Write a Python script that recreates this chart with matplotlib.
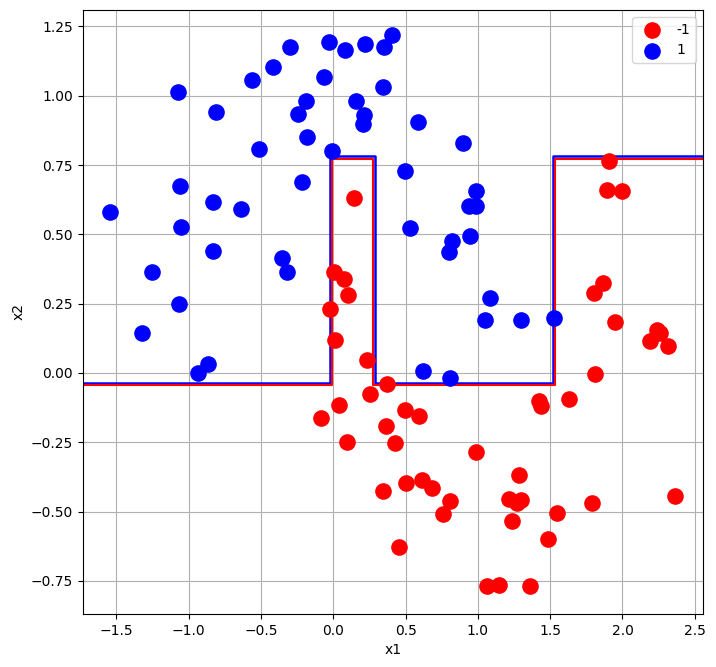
import matplotlib.pyplot as plt

# class -1 (red) points
neg_x1 = [0.145, 0.005, 0.076, 0.104, -0.022, 0.014, 0.231, 0.373, 0.256, 0.041,
          -0.083, 0.364, 0.097, 0.425, 0.344, 0.453, 1.867, 1.805, 1.950, 2.236,
          2.259, 2.190, 2.317, 1.812, 1.425, 1.438, 1.632, 0.498, 0.595, 0.989,
          1.284, 0.503, 0.613, 0.685, 0.809, 0.761, 1.215, 1.296, 1.268, 1.238,
          1.547, 1.487, 1.791, 2.363, 1.063, 1.148, 1.362, 1.909, 1.895, 1.999]
neg_x2 = [0.630, 0.363, 0.339, 0.281, 0.229, 0.118, 0.047, -0.041, -0.077, -0.117,
          -0.163, -0.191, -0.250, -0.254, -0.426, -0.628, 0.326, 0.287, 0.184, 0.155,
          0.143, 0.115, 0.097, -0.004, -0.101, -0.119, -0.095, -0.135, -0.155, -0.286,
          -0.369, -0.396, -0.386, -0.415, -0.462, -0.510, -0.454, -0.458, -0.470, -0.535,
          -0.506, -0.600, -0.470, -0.445, -0.768, -0.765, -0.768, 0.765, 0.659, 0.656]

# class 1 (blue) points
pos_x1 = [0.408, -0.028, -0.297, 0.083, 0.219, 0.351, -0.415, -0.560, -0.062, 0.344,
          -1.072, -0.189, 0.157, -0.811, -0.242, 0.212, 0.205, -0.180, -0.512, -0.011,
          -0.214, -1.058, -0.830, -1.544, -0.636, -1.051, -0.830, -0.355, -0.320, -1.252,
          -1.065, -1.321, -0.864, -0.936, 0.588, 0.899, 0.498, 0.989, 0.985, 0.936,
          0.530, 0.947, 0.823, 0.802, 1.086, 1.051, 1.300, 1.528, 0.622, 0.809]
pos_x2 = [1.219, 1.195, 1.175, 1.165, 1.186, 1.175, 1.102, 1.056, 1.066, 1.030,
          1.013, 0.981, 0.981, 0.940, 0.933, 0.930, 0.897, 0.850, 0.807, 0.801,
          0.688, 0.674, 0.616, 0.580, 0.590, 0.527, 0.440, 0.415, 0.363, 0.363,
          0.249, 0.143, 0.031, -0.001, 0.904, 0.828, 0.727, 0.656, 0.603, 0.602,
          0.522, 0.493, 0.476, 0.437, 0.272, 0.191, 0.191, 0.197, 0.007, -0.019]

# decision boundary (x splits, low/high x2 levels) for each contour
blue_xs = [-0.026, 0.288, 1.521]
blue_lo, blue_hi = -0.037, 0.782
red_xs = [-0.010, 0.274, 1.534]
red_lo, red_hi = -0.045, 0.772

xlim = (-1.733, 2.555)
ylim = (-0.869, 1.309)


def boundary(xs, lo, hi):
    a, b, c = xs
    px = [xlim[0], a, a, b, b, c, c, xlim[1]]
    py = [lo, lo, hi, hi, lo, lo, hi, hi]
    return px, py


fig = plt.figure(figsize=(7.16, 6.67), dpi=100)
ax = fig.add_axes([0.1155, 0.0795, 0.866, 0.9055])

rx, ry = boundary(red_xs, red_lo, red_hi)
bx, by = boundary(blue_xs, blue_lo, blue_hi)
ax.plot(bx, by, color='blue', lw=1.8, solid_joinstyle='round', zorder=2)
ax.plot(rx, ry, color='red', lw=1.5, solid_joinstyle='round', zorder=2)

ax.scatter(neg_x1, neg_x2, c='red', s=120, label='-1', zorder=3)
ax.scatter(pos_x1, pos_x2, c='blue', s=120, label='1', zorder=3)

ax.set_xlim(*xlim)
ax.set_ylim(*ylim)
ax.set_xlabel('x1')
ax.set_ylabel('x2')
ax.grid(True)
ax.set_axisbelow(True)
ax.legend(loc='upper right')

fig.savefig('out.png', dpi=100)
